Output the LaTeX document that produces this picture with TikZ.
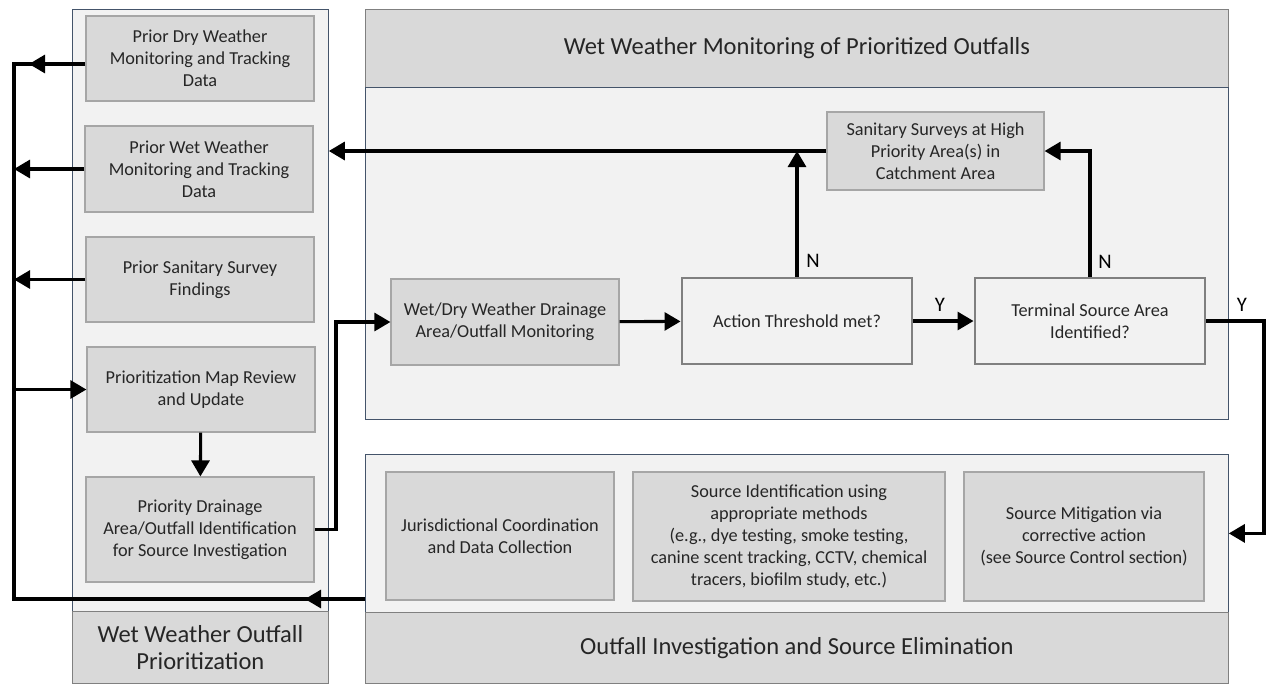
\documentclass[tikz,border=0pt]{standalone}
\usepackage{fontspec}
\setmainfont{Carlito}
\usetikzlibrary{arrows.meta}

\definecolor{boxgray}{HTML}{D9D9D9}
\definecolor{panelgray}{HTML}{F2F2F2}
\definecolor{edgegray}{HTML}{A6A6A6}
\definecolor{darkedge}{HTML}{808080}
\definecolor{panelblue}{HTML}{44546A}
\definecolor{inkgray}{HTML}{262626}

\tikzset{
  procbox/.style n args={2}{draw=edgegray,fill=boxgray,line width=0.9pt,
    minimum width=#1*0.75pt,minimum height=#2*0.75pt,inner sep=0pt,
    align=center,text=inkgray},
  decision/.style n args={2}{draw=darkedge,fill=panelgray,line width=2.2pt,
    minimum width=#1*0.75pt,minimum height=#2*0.75pt,inner sep=0pt,
    align=center,text=inkgray},
  panel/.style n args={2}{draw=panelblue,fill=panelgray,line width=0.6pt,
    minimum width=#1*0.75pt,minimum height=#2*0.75pt,inner sep=0pt,anchor=north west},
  header/.style n args={2}{draw=darkedge,fill=boxgray,line width=0.6pt,
    minimum width=#1*0.75pt,minimum height=#2*0.75pt,inner sep=0pt,anchor=north west,
    align=center,text=inkgray,font=\fontsize{18.4}{20.5}\selectfont},
  flow/.style={line width=2.3pt,black},
  lbl/.style={text=black,font=\fontsize{15.5}{17}\selectfont,inner sep=0pt}
}

\begin{document}
\begin{tikzpicture}[x=0.75pt,y=-0.75pt,>={Triangle[length=12pt,width=13.5pt]},
  font=\fontsize{13.7}{16.4}\selectfont]
  \useasboundingbox (0,0) rectangle (1267,683);

  % panels
  \node[panel={256}{602}] (lpanel) at (72,9) {};
  \node[header={256}{72}] (lhead) at (72,611) {Wet Weather Outfall\\Prioritization};
  \node[header={863}{78}] (thead) at (365,9) {Wet Weather Monitoring of Prioritized Outfalls};
  \node[panel={863}{332}] (tpanel) at (365,87) {};
  \node[panel={863}{158}] (bpanel) at (365,454) {};
  \node[header={863}{71}] (bhead) at (365,612) {Outfall Investigation and Source Elimination};

  % left column
  \node[procbox={228}{85}] (dry) at (200,58.5) {Prior Dry Weather\\Monitoring and Tracking\\Data};
  \node[procbox={228}{86}] (wet) at (199,169) {Prior Wet Weather\\Monitoring and Tracking\\Data};
  \node[procbox={228}{85}] (sanold) at (200,279.5) {Prior Sanitary Survey\\Findings};
  \node[procbox={228}{85}] (map) at (201,389.5) {Prioritization Map Review\\and Update};
  \node[procbox={228}{105}] (prio) at (200,529.5) {Priority Drainage\\Area/Outfall Identification\\for Source Investigation};

  % monitoring
  \node[procbox={217}{78}] (survey) at (935.5,151) {Sanitary Surveys at High\\Priority Area(s) in\\Catchment Area};
  \node[procbox={228}{86}] (monit) at (505,322) {Wet/Dry Weather Drainage\\Area/Outfall Monitoring};
  \node[decision={230}{86}] (action) at (797,321) {Action Threshold met?};
  \node[decision={230}{86}] (terminal) at (1090,321) {Terminal Source Area\\Identified?};

  % investigation
  \node[procbox={228}{128}] (juris) at (500,536) {Jurisdictional Coordination\\and Data Collection};
  \node[procbox={312}{129}] (srcid) at (789,536.5) {Source Identification using\\appropriate methods\\(e.g., dye testing, smoke testing,\\canine scent tracking, CCTV, chemical\\tracers, biofilm study, etc.)};
  \node[procbox={240}{129}] (mitig) at (1084,536.5) {Source Mitigation via\\corrective action\\(see Source Control section)};

  % return loop
  \coordinate (retstart) at (365,599);
  \coordinate (retmid) at (305,599);
  \coordinate (retcorner) at (14,599);
  \coordinate (topcorner) at (14,64);
  \coordinate (drytip) at (29,64);
  \draw[flow] (retstart) -- (retcorner) -- (topcorner) -- (dry.west |- topcorner);
  \draw[flow,->] (retstart) -- (retmid);
  \draw[flow,->] (dry.west |- topcorner) -- (drytip);
  \draw[flow,->] (wet.west) -- (wet.west -| topcorner);
  \draw[flow,->] (sanold.west) -- (sanold.west -| topcorner);
  \draw[flow,->] (map.west -| topcorner) -- (map.west);
  \draw[flow,->] (map) -- (prio);

  \coordinate (jog) at (336,322);
  \draw[flow,->] (prio.east) -| (jog) -- (monit.west);

  \draw[flow,->] (survey.west) -- (survey.west -| lpanel.east);
  \draw[flow,->] (monit) -- (action);
  \draw[flow,->] (action) -- (terminal);
  \draw[flow,->] (action.north) -- (action.north |- survey.west);
  \draw[flow,->] (terminal.north) |- (survey.east);

  \coordinate (yturn) at (1264,321);
  \draw[flow,->] (terminal.east) -- (yturn) |- (bpanel.east);

  \node[lbl] (nleft) at (813,261) {N};
  \node[lbl] (nright) at (1105,262) {N};
  \node[lbl] (yleft) at (940,305) {Y};
  \node[lbl] (yright) at (1242,305) {Y};
\end{tikzpicture}
\end{document}
